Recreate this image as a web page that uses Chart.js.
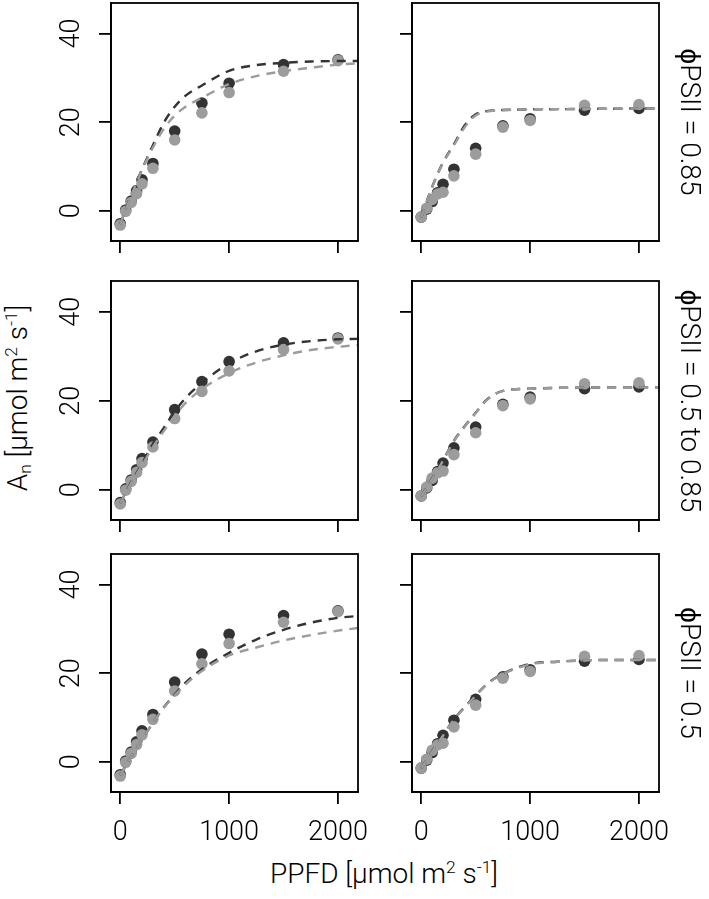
<!DOCTYPE html>
<html><head><meta charset="utf-8">
<script src="https://cdn.jsdelivr.net/npm/chart.js@4/dist/chart.umd.min.js"></script>
<style>
html,body{margin:0;padding:0;background:#fff;width:709px;height:899px;overflow:hidden;position:relative;font-family:Roboto,'Liberation Sans',sans-serif;font-weight:300;}
canvas{position:absolute;}
.lbl{position:absolute;white-space:nowrap;font-size:28px;color:#000;line-height:1;}
.lbl sup{font-size:62%;vertical-align:0.55em;line-height:0;}
.lbl sub{font-size:62%;vertical-align:-0.25em;line-height:0;}
</style></head><body>
<script>
// ---------- data ----------
const ppfdPoints = [0, 50, 100, 150, 200, 300, 500, 750, 1000, 1500, 2000];
const speciesA_dark = [-2.9, 0.2, 2.2, 4.5, 7.0, 10.7, 18.0, 24.3, 28.8, 33.0, 34.1];
const speciesA_gray = [-3.2, -0.1, 1.9, 3.9, 6.1, 9.6, 16.0, 22.1, 26.7, 31.5, 33.9];
const speciesB_dark = [-1.4, 0.4, 2.1, 4.1, 6.0, 9.4, 14.1, 19.2, 20.8, 22.7, 23.1];
const speciesB_gray = [-1.4, 0.6, 2.6, 3.8, 4.2, 7.9, 12.8, 18.9, 20.4, 23.8, 24.0];

const ppfdCurve = [0, 100, 200, 300, 400, 500, 600, 750, 1000, 1250, 1500, 1750, 2000, 2180];
const fitA_085_dark = [-3, 3.6, 9.4, 14.8, 19.9, 23.5, 26.0, 28.3, 31.6, 32.9, 33.4, 33.7, 33.8, 33.8];
const fitA_085_gray = [-3, 3.4, 9.2, 14.3, 18.5, 21.5, 23.5, 25.5, 28.6, 30.4, 31.5, 32.3, 33.0, 33.3];
const fitB_085_dark = [-1.5, 5.4, 10.9, 15.0, 19.3, 21.8, 22.5, 22.75, 22.9, 22.95, 23.0, 23.05, 23.1, 23.1];
const fitB_085_gray = [-1.5, 5.3, 10.8, 14.8, 18.9, 21.5, 22.4, 22.75, 22.9, 22.95, 23.0, 23.05, 23.1, 23.1];
const fitA_mid_dark = [-3, 1.7, 5.8, 10.3, 13.9, 17.6, 20.6, 24.0, 28.4, 31.1, 32.6, 33.4, 33.8, 33.9];
const fitA_mid_gray = [-3, 1.5, 5.5, 9.6, 13.2, 16.5, 19.5, 22.6, 26.2, 28.6, 30.2, 31.4, 32.1, 32.5];
const fitB_mid_dark = [-1.5, 2.5, 6.6, 11.0, 14.3, 17.3, 20.2, 22.2, 22.7, 22.9, 22.95, 23.0, 23.0, 23.0];
const fitB_mid_gray = [-1.5, 2.4, 6.5, 10.9, 14.2, 17.2, 20.1, 22.2, 22.7, 22.9, 22.95, 23.0, 23.0, 23.0];
const fitA_05_dark = [-3, 1.2, 5.0, 8.8, 12.3, 15.2, 17.9, 20.9, 24.6, 27.6, 29.8, 31.4, 32.5, 32.9];
const fitA_05_gray = [-3, 1.2, 5.0, 8.8, 12.2, 15.0, 17.5, 20.5, 24.0, 25.8, 27.4, 28.6, 29.6, 30.2];
const fitB_05_dark = [-1.5, 2.4, 6.0, 9.6, 12.4, 15.0, 17.5, 19.9, 22.1, 22.6, 22.9, 23.0, 23.0, 23.0];
const fitB_05_gray = [-1.5, 2.3, 5.9, 9.5, 12.3, 14.9, 17.4, 19.8, 22.0, 22.6, 22.9, 23.0, 23.0, 23.0];

const xTicks = [0, 1000, 2000];
const yTicks = [0, 20, 40];
const rowLabels = ['ϕPSII = 0.85', 'ϕPSII = 0.5 to 0.85', 'ϕPSII = 0.5'];

// ---------- layout / style ----------
const DARK = '#333333', GRAY = '#9c9c9c';
const FONT = {family: "Roboto, 'Liberation Sans', sans-serif", size: 27, weight: '300'};
const colL = [111, 412], boxW = 247;
const rowT = [3, 281, 554], rowH = [238, 239, 238];
const YW = 60, XH = 60, PT = 40, PR = 45;

const panels = [
  {row:0, col:0, pts:[speciesA_dark, speciesA_gray], fit:[fitA_085_dark, fitA_085_gray]},
  {row:0, col:1, pts:[speciesB_dark, speciesB_gray], fit:[fitB_085_dark, fitB_085_gray]},
  {row:1, col:0, pts:[speciesA_dark, speciesA_gray], fit:[fitA_mid_dark, fitA_mid_gray]},
  {row:1, col:1, pts:[speciesB_dark, speciesB_gray], fit:[fitB_mid_dark, fitB_mid_gray]},
  {row:2, col:0, pts:[speciesA_dark, speciesA_gray], fit:[fitA_05_dark, fitA_05_gray]},
  {row:2, col:1, pts:[speciesB_dark, speciesB_gray], fit:[fitB_05_dark, fitB_05_gray]},
];

const boxPlugin = {
  id: 'box',
  afterDatasetsDraw(chart) {
    const {ctx, chartArea: a} = chart;
    ctx.save();
    ctx.strokeStyle = '#000';
    ctx.lineWidth = 1.8;
    ctx.strokeRect(a.left, a.top, a.right - a.left, a.bottom - a.top);
    ctx.restore();
  }
};

function toXY(xs, ys) { return xs.map((x, i) => ({x: x, y: ys[i]})); }

panels.forEach(p => {
  const c = document.createElement('canvas');
  const L = colL[p.col] - YW, T = rowT[p.row] - PT;
  const W = YW + boxW + PR, H = PT + rowH[p.row] + XH;
  c.width = W; c.height = H;
  c.style.left = L + 'px'; c.style.top = T + 'px';
  c.style.width = W + 'px'; c.style.height = H + 'px';
  document.body.appendChild(c);
  const showX = p.row === 2, showY = p.col === 0;
  new Chart(c, {
    type: 'scatter',
    data: {datasets: [
      {data: toXY(ppfdPoints, p.pts[0]), backgroundColor: DARK, pointRadius: 5.8, pointBorderWidth: 0, borderWidth: 0, showLine: false, order: 4},
      {data: toXY(ppfdPoints, p.pts[1]), backgroundColor: GRAY, pointRadius: 5.8, pointBorderWidth: 0, borderWidth: 0, showLine: false, order: 3},
      {data: toXY(ppfdCurve, p.fit[0]), borderColor: DARK, borderWidth: 2.4, borderDash: [9, 7], pointRadius: 0, showLine: true, cubicInterpolationMode: 'monotone', order: 2},
      {data: toXY(ppfdCurve, p.fit[1]), borderColor: GRAY, borderWidth: 2.4, borderDash: [9, 7], pointRadius: 0, showLine: true, cubicInterpolationMode: 'monotone', order: 1},
    ]},
    options: {
      responsive: false, animation: false, devicePixelRatio: 1,
      layout: {padding: {top: PT, right: PR, left: 0, bottom: 0}},
      plugins: {legend: {display: false}, tooltip: {enabled: false}},
      events: [],
      scales: {
        x: {
          type: 'linear', position: 'bottom', min: -85, max: 2184,
          afterBuildTicks: s => { s.ticks = xTicks.map(v => ({value: v})); },
          afterFit: s => { s.height = XH; },
          ticks: {display: true, autoSkip: false, maxRotation: 0, minRotation: 0, padding: 13, color: '#000', font: FONT,
                  callback: v => showX ? String(v) : ''},
          grid: {drawOnChartArea: false, drawTicks: true, tickLength: 12, tickColor: '#000', tickWidth: 1.8, lineWidth: 1.8},
          border: {display: true, color: '#000', width: 1.8}
        },
        y: {
          type: 'linear', position: 'left', min: -6.8, max: 46.9,
          afterBuildTicks: s => { s.ticks = yTicks.map(v => ({value: v})); },
          afterFit: s => { s.width = YW; },
          ticks: {display: true, autoSkip: false, minRotation: 90, maxRotation: 90, crossAlign: 'center', padding: 12, color: '#000', font: FONT,
                  callback: v => showY ? String(v) : ''},
          grid: {drawOnChartArea: false, drawTicks: true, tickLength: 12, tickColor: '#000', tickWidth: 1.8, lineWidth: 1.8},
          border: {display: true, color: '#000', width: 1.8}
        }
      }
    },
    plugins: [boxPlugin]
  });
});

// ---------- text labels ----------
function addLabel(html, cx, cy, rot) {
  const d = document.createElement('div');
  d.className = 'lbl';
  d.innerHTML = html;
  d.style.left = cx + 'px'; d.style.top = cy + 'px';
  d.style.transform = 'translate(-50%,-50%)' + (rot ? ' rotate(' + rot + 'deg)' : '');
  document.body.appendChild(d);
}
rowLabels.forEach((t, i) => addLabel(t, 690, rowT[i] + rowH[i] / 2, 90));
addLabel('A<sub>n</sub> [µmol m<sup>2</sup> s<sup>-1</sup>]', 18, 398, -90);
addLabel('PPFD [µmol m<sup>2</sup> s<sup>-1</sup>]', 384, 874, 0);
</script>
</body></html>
